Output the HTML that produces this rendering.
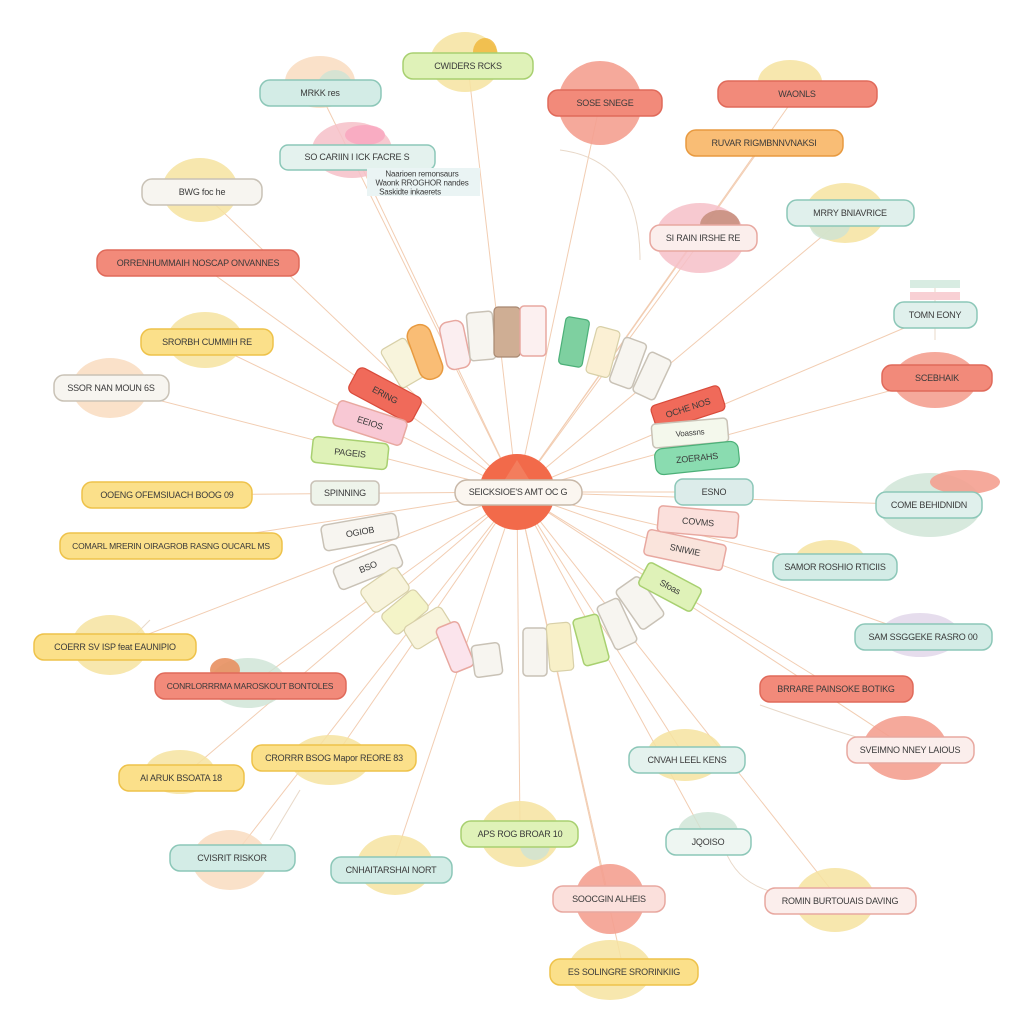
<!DOCTYPE html>
<html><head><meta charset="utf-8"><style>
html,body{margin:0;padding:0;background:#fff;width:1024px;height:1024px;overflow:hidden}
svg text{font-family:"Liberation Sans",sans-serif;font-size:9px;fill:#3a3a3a;text-anchor:middle;dominant-baseline:central;font-weight:normal;letter-spacing:-0.2px}
.t{fill:#d3ece6;stroke:#8cc7b8;stroke-width:1.5}
.s{fill:#f28a7a;stroke:#e06a5a;stroke-width:1.5}
.y{fill:#fbe08a;stroke:#eec24a;stroke-width:1.5}
.g{fill:#dff2b8;stroke:#a8d070;stroke-width:1.5}
.o{fill:#f9bd75;stroke:#e89a40;stroke-width:1.5}
.w{fill:#f7f5f0;stroke:#c9c2b6;stroke-width:1.5}
.p{fill:#fbe0dc;stroke:#e8a8a0;stroke-width:1.5}
.c{fill:#f8f4dc;stroke:#d8d0a8;stroke-width:1.2}
.gr{fill:#7ed0a0;stroke:#4cb078;stroke-width:1.2}
.br{fill:#cfae94;stroke:#a88870;stroke-width:1.2}
.r{fill:#f06a5a;stroke:#d84a3a;stroke-width:1.2}
.ln line{stroke:#f2cdb2;stroke-width:1}
.b1{fill:#f9dcc0;opacity:.85}.b2{fill:#f6e3a0;opacity:.85}.b3{fill:#f4a090;opacity:.9}.b4{fill:#cde4d4;opacity:.8}.b5{fill:#f6c0c8;opacity:.85}.b6{fill:#e0d4e8;opacity:.8}
</style></head><body>
<svg width="1024" height="1024" viewBox="0 0 1024 1024">
<g class="ln">
<line x1="517" y1="492" x2="320" y2="93"/><line x1="517" y1="492" x2="468" y2="66"/><line x1="517" y1="492" x2="600" y2="103"/><line x1="517" y1="492" x2="797" y2="94"/><line x1="517" y1="492" x2="764" y2="143"/><line x1="517" y1="492" x2="357" y2="157"/><line x1="517" y1="492" x2="202" y2="192"/><line x1="517" y1="492" x2="850" y2="213"/><line x1="517" y1="492" x2="703" y2="238"/><line x1="517" y1="492" x2="198" y2="263"/><line x1="517" y1="492" x2="935" y2="315"/><line x1="517" y1="492" x2="207" y2="342"/><line x1="517" y1="492" x2="937" y2="378"/><line x1="517" y1="492" x2="111" y2="388"/><line x1="517" y1="492" x2="167" y2="495"/><line x1="517" y1="492" x2="714" y2="492"/><line x1="517" y1="492" x2="929" y2="505"/><line x1="517" y1="492" x2="171" y2="546"/><line x1="517" y1="492" x2="835" y2="567"/><line x1="517" y1="492" x2="923" y2="637"/><line x1="517" y1="492" x2="115" y2="647"/><line x1="517" y1="492" x2="250" y2="686"/><line x1="517" y1="492" x2="836" y2="689"/><line x1="517" y1="492" x2="334" y2="758"/><line x1="517" y1="492" x2="910" y2="750"/><line x1="517" y1="492" x2="687" y2="760"/><line x1="517" y1="492" x2="181" y2="778"/><line x1="517" y1="492" x2="520" y2="834"/><line x1="517" y1="492" x2="708" y2="842"/><line x1="517" y1="492" x2="232" y2="858"/><line x1="517" y1="492" x2="391" y2="870"/><line x1="517" y1="492" x2="609" y2="899"/><line x1="517" y1="492" x2="840" y2="901"/><line x1="517" y1="492" x2="624" y2="972"/>
</g>
<g fill="none" stroke="#e8d8c8" stroke-width="1">
<path d="M560 150 Q640 160 640 260"/><path d="M935 280 L935 340"/><path d="M725 850 Q740 890 790 895"/><path d="M760 705 Q860 740 870 740"/><path d="M150 620 L130 640"/><path d="M270 840 L300 790"/>
</g>
<ellipse class="b1" cx="320" cy="82" rx="35" ry="26"/><ellipse class="b4" cx="335" cy="88" rx="18" ry="18"/>
<ellipse class="b2" cx="465" cy="62" rx="35" ry="30"/><ellipse class="b1" cx="485" cy="52" rx="12" ry="14" style="fill:#f0b840"/>
<circle class="b3" cx="600" cy="103" r="42"/>
<ellipse class="b2" cx="790" cy="82" rx="32" ry="22"/>
<ellipse class="b5" cx="352" cy="150" rx="40" ry="28"/><ellipse class="b3" cx="365" cy="135" rx="20" ry="10" style="fill:#f8a8c0"/>
<ellipse class="b2" cx="200" cy="190" rx="38" ry="32"/>
<ellipse class="b2" cx="845" cy="213" rx="40" ry="30"/><ellipse class="b4" cx="830" cy="225" rx="20" ry="15"/>
<ellipse class="b5" cx="700" cy="238" rx="45" ry="35"/><ellipse class="b3" cx="720" cy="225" rx="20" ry="15" style="fill:#c89080"/>
<ellipse class="b2" cx="205" cy="340" rx="38" ry="28"/>
<ellipse class="b3" cx="935" cy="380" rx="42" ry="28"/>
<ellipse class="b1" cx="110" cy="388" rx="38" ry="30"/>
<ellipse class="b4" cx="930" cy="505" rx="52" ry="32"/><ellipse class="b3" cx="965" cy="482" rx="35" ry="12"/>
<ellipse class="b2" cx="830" cy="560" rx="35" ry="20"/>
<ellipse class="b6" cx="920" cy="635" rx="40" ry="22"/>
<ellipse class="b2" cx="110" cy="645" rx="38" ry="30"/>
<ellipse class="b4" cx="248" cy="683" rx="38" ry="25"/><ellipse class="b3" cx="225" cy="670" rx="15" ry="12" style="fill:#e89060"/>
<ellipse class="b2" cx="330" cy="760" rx="40" ry="25"/>
<ellipse class="b3" cx="905" cy="748" rx="42" ry="32"/>
<ellipse class="b2" cx="685" cy="755" rx="38" ry="26"/>
<ellipse class="b2" cx="180" cy="772" rx="35" ry="22"/>
<ellipse class="b2" cx="520" cy="834" rx="40" ry="33"/><ellipse class="b4" cx="535" cy="845" rx="15" ry="15"/>
<ellipse class="b4" cx="708" cy="832" rx="30" ry="20"/>
<ellipse class="b1" cx="230" cy="860" rx="38" ry="30"/>
<ellipse class="b2" cx="395" cy="865" rx="38" ry="30"/>
<circle class="b3" cx="610" cy="899" r="35"/>
<ellipse class="b2" cx="835" cy="900" rx="40" ry="32"/>
<ellipse class="b2" cx="610" cy="970" rx="42" ry="30"/>
<rect class="t" x="260" y="80" width="121" height="26" rx="10"/><text x="320" y="93">MRKK res</text>
<rect class="g" x="403" y="53" width="130" height="26" rx="10"/><text x="468" y="66">CWIDERS RCKS</text>
<rect class="s" x="548" y="90" width="114" height="26" rx="10"/><text x="605" y="103">SOSE SNEGE</text>
<rect class="s" x="718" y="81" width="159" height="26" rx="10"/><text x="797" y="94">WAONLS</text>
<rect class="o" x="686" y="130" width="157" height="26" rx="10"/><text x="764" y="143">RUVAR RIGMBNNVNAKSI</text>
<rect class="t" x="280" y="145" width="155" height="25" rx="8" style="fill:#e4f2ee"/><text x="357" y="157">SO CARIIN I ICK FACRE  S</text>
<rect x="367" y="168" width="113" height="28" fill="#eaf4f4"/><text x="422" y="174" style="font-size:8px">Naarioen remonsaurs</text><text x="422" y="183" style="font-size:8px">Waonk RROGHOR nandes</text><text x="410" y="192" style="font-size:8px">Saskidte inkaerets</text>
<rect class="w" x="142" y="179" width="120" height="26" rx="10"/><text x="202" y="192">BWG foc he</text>
<rect class="t" x="787" y="200" width="127" height="26" rx="10" style="fill:#e0f0ec"/><text x="850" y="213">MRRY BNIAVRICE</text>
<rect class="p" x="650" y="225" width="107" height="26" rx="10" style="fill:#fbeeec"/><text x="703" y="238">SI RAIN IRSHE RE</text>
<rect class="s" x="97" y="250" width="202" height="26" rx="10"/><text x="198" y="263">ORRENHUMMAIH NOSCAP ONVANNES</text>
<rect class="t" x="894" y="302" width="83" height="26" rx="10" style="fill:#e0f0ec"/><text x="935" y="315">TOMN EONY</text>
<rect x="910" y="280" width="50" height="8" fill="#d8ece2"/><rect x="910" y="292" width="50" height="8" fill="#f8d0d4"/>
<rect class="y" x="141" y="329" width="132" height="26" rx="10"/><text x="207" y="342">SRORBH CUMMIH RE</text>
<rect class="s" x="882" y="365" width="110" height="26" rx="10"/><text x="937" y="378">SCEBHAIK</text>
<rect class="w" x="54" y="375" width="115" height="26" rx="10"/><text x="111" y="388">SSOR NAN MOUN 6S</text>
<rect class="y" x="82" y="482" width="170" height="26" rx="10"/><text x="167" y="495">OOENG OFEMSIUACH BOOG 09</text>
<rect class="t" x="675" y="479" width="78" height="26" rx="8" style="fill:#dcecea"/><text x="714" y="492">ESNO</text>
<rect class="t" x="876" y="492" width="106" height="26" rx="10" style="fill:#e0f0ec"/><text x="929" y="505">COME BEHIDNIDN</text>
<rect class="y" x="60" y="533" width="222" height="26" rx="10"/><text x="171" y="546" style="font-size:8.5px">COMARL MRERIN OIRAGROB RASNG OUCARL MS</text>
<rect class="t" x="773" y="554" width="124" height="26" rx="10"/><text x="835" y="567">SAMOR ROSHIO RTICIIS</text>
<rect class="t" x="855" y="624" width="137" height="26" rx="10"/><text x="923" y="637">SAM SSGGEKE RASRO 00</text>
<rect class="y" x="34" y="634" width="162" height="26" rx="10"/><text x="115" y="647">COERR SV ISP feat EAUNIPIO</text>
<rect class="s" x="155" y="673" width="191" height="26" rx="10"/><text x="250" y="686" style="font-size:8.5px">CONRLORRRMA MAROSKOUT BONTOLES</text>
<rect class="s" x="760" y="676" width="153" height="26" rx="10"/><text x="836" y="689">BRRARE PAINSOKE BOTIKG</text>
<rect class="y" x="252" y="745" width="164" height="26" rx="10"/><text x="334" y="758">CRORRR BSOG Mapor REORE 83</text>
<rect class="p" x="847" y="737" width="127" height="26" rx="10" style="fill:#fbeeec"/><text x="910" y="750">SVEIMNO NNEY LAIOUS</text>
<rect class="t" x="629" y="747" width="116" height="26" rx="10" style="fill:#e4f2ee"/><text x="687" y="760">CNVAH LEEL KENS</text>
<rect class="y" x="119" y="765" width="125" height="26" rx="10"/><text x="181" y="778">AI ARUK BSOATA 18</text>
<rect class="g" x="461" y="821" width="117" height="26" rx="10"/><text x="520" y="834">APS ROG BROAR 10</text>
<rect class="t" x="666" y="829" width="85" height="26" rx="10" style="fill:#eef6f2"/><text x="708" y="842">JQOISO</text>
<rect class="t" x="170" y="845" width="125" height="26" rx="10"/><text x="232" y="858">CVISRIT RISKOR</text>
<rect class="t" x="331" y="857" width="121" height="26" rx="10"/><text x="391" y="870">CNHAITARSHAI NORT</text>
<rect class="p" x="553" y="886" width="112" height="26" rx="10"/><text x="609" y="899">SOOCGIN ALHEIS</text>
<rect class="p" x="765" y="888" width="151" height="26" rx="10" style="fill:#fbeeec"/><text x="840" y="901">ROMIN BURTOUAIS DAVING</text>
<rect class="y" x="550" y="959" width="148" height="26" rx="10"/><text x="624" y="972">ES SOLINGRE SRORINKIIG</text>
<g transform="translate(403,363) rotate(-30)"><rect class="c" x="-14" y="-22" width="28" height="44" rx="4"/></g>
<g transform="translate(425,352) rotate(-20)"><rect class="o" x="-12" y="-28" width="24" height="56" rx="11"/></g>
<g transform="translate(455,345) rotate(-12)"><rect class="p" x="-12" y="-24" width="24" height="48" rx="8" style="fill:#fbeef0"/></g>
<g transform="translate(481,334) rotate(-5)"><rect class="w" x="-13" y="-22" width="26" height="48" rx="4"/></g>
<g transform="translate(507,332)"><rect class="br" x="-13" y="-25" width="26" height="50" rx="4"/></g>
<g transform="translate(533,331)"><rect class="p" x="-13" y="-25" width="26" height="50" rx="4" style="fill:#fcf0f0"/></g>
<g transform="translate(574,342) rotate(10)"><rect class="gr" x="-12" y="-24" width="24" height="48" rx="4"/></g>
<g transform="translate(603,352) rotate(15)"><rect class="c" x="-12" y="-24" width="24" height="48" rx="4" style="fill:#fbf0d4"/></g>
<g transform="translate(628,363) rotate(20)"><rect class="w" x="-12" y="-24" width="24" height="48" rx="4"/></g>
<g transform="translate(652,376) rotate(25)"><rect class="w" x="-12" y="-22" width="24" height="44" rx="4"/></g>
<g transform="translate(385,395) rotate(28)"><rect class="r" x="-36" y="-14" width="72" height="28" rx="6"/><text>ERING</text></g>
<g transform="translate(370,423) rotate(18)"><rect class="p" x="-36" y="-13" width="72" height="26" rx="5" style="fill:#f8c8d4"/><text>EEIOS</text></g>
<g transform="translate(350,453) rotate(6)"><rect class="g" x="-38" y="-13" width="76" height="26" rx="5"/><text>PAGEIS</text></g>
<g transform="translate(345,493)"><rect class="w" x="-34" y="-12" width="68" height="24" rx="5" style="fill:#eef4ea"/><text>SPINNING</text></g>
<g transform="translate(360,532) rotate(-10)"><rect class="w" x="-38" y="-13" width="76" height="26" rx="5"/><text>OGIOB</text></g>
<g transform="translate(368,567) rotate(-22)"><rect class="w" x="-34" y="-12" width="68" height="24" rx="5"/><text>BSO</text></g>
<g transform="translate(385,590) rotate(-35)"><rect class="c" x="-22" y="-14" width="44" height="28" rx="5"/></g>
<g transform="translate(405,612) rotate(-40)"><rect class="c" x="-22" y="-13" width="44" height="26" rx="5" style="fill:#f4f4c8"/></g>
<g transform="translate(428,628) rotate(-32)"><rect class="c" x="-22" y="-13" width="44" height="26" rx="5"/></g>
<g transform="translate(455,647) rotate(-22)"><rect class="p" x="-12" y="-24" width="24" height="48" rx="5" style="fill:#fbe4ec"/></g>
<g transform="translate(487,660) rotate(-8)"><rect class="w" x="-14" y="-16" width="28" height="32" rx="4"/></g>
<g transform="translate(535,652)"><rect class="w" x="-12" y="-24" width="24" height="48" rx="4"/></g>
<g transform="translate(560,647) rotate(-5)"><rect class="c" x="-12" y="-24" width="24" height="48" rx="4" style="fill:#f8f0c8"/></g>
<g transform="translate(591,640) rotate(-15)"><rect class="g" x="-13" y="-24" width="26" height="48" rx="4"/></g>
<g transform="translate(617,624) rotate(-25)"><rect class="w" x="-12" y="-24" width="24" height="48" rx="4"/></g>
<g transform="translate(640,603) rotate(-35)"><rect class="w" x="-14" y="-24" width="28" height="48" rx="4"/></g>
<g transform="translate(670,587) rotate(28)"><rect class="g" x="-30" y="-13" width="60" height="26" rx="4"/><text>Sfoas</text></g>
<g transform="translate(685,550) rotate(12)"><rect class="p" x="-40" y="-13" width="80" height="26" rx="4" style="fill:#fae4dc"/><text>SNIWIE</text></g>
<g transform="translate(698,522) rotate(5)"><rect class="p" x="-40" y="-13" width="80" height="26" rx="4"/><text>COVMS</text></g>
<g transform="translate(688,408) rotate(-18)"><rect class="r" x="-36" y="-13" width="72" height="26" rx="5"/><text>OCHE NOS</text></g>
<g transform="translate(690,433) rotate(-5)"><rect class="w" x="-38" y="-12" width="76" height="24" rx="4" style="fill:#f4f8ec"/><text style="font-size:8px">Voassns</text></g>
<g transform="translate(697,458) rotate(-6)"><rect class="gr" x="-42" y="-13" width="84" height="26" rx="8" style="fill:#8adcb0"/><text>ZOERAHS</text></g>
<circle cx="517" cy="492" r="38" fill="#f26a4a"/>
<polygon points="517,460 545,505 489,505" fill="#f48a6a" opacity=".6"/>
<rect x="455" y="480" width="127" height="25" rx="12" fill="#fbf6f0" stroke="#c8b8a8" stroke-width="1.5"/>
<text x="518" y="492" style="font-size:9px">SEICKSIOE'S AMT OC G</text>
</svg>
</body></html>
